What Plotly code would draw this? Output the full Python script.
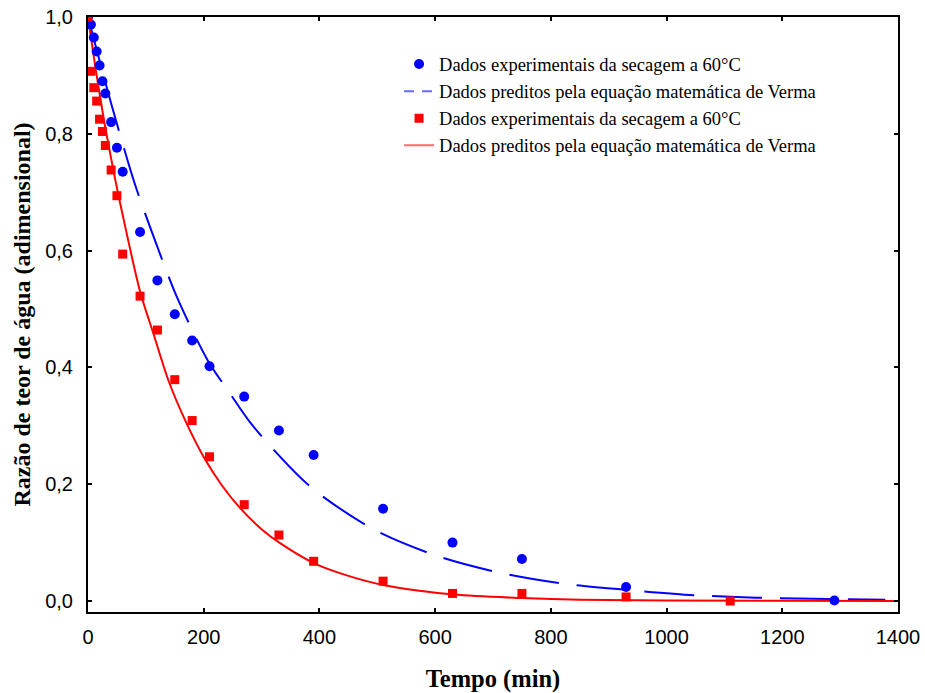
import plotly.graph_objects as go

# Experimental data (blue circles)
t_blue = [0, 5, 10, 15, 20, 25, 30, 40, 50, 60, 90, 120, 150, 180, 210, 270, 330, 390, 510, 630, 750, 930, 1290]
mr_blue = [1.0, 0.987, 0.965, 0.941, 0.917, 0.890, 0.869, 0.820, 0.776, 0.735, 0.632, 0.549, 0.491, 0.446,
           0.402, 0.350, 0.292, 0.250, 0.158, 0.100, 0.072, 0.024, 0.001]

# Experimental data (red squares)
t_red = [0, 5, 10, 15, 20, 25, 30, 40, 50, 60, 90, 120, 150, 180, 210, 270, 330, 390, 510, 630, 750, 930, 1110]
mr_red = [1.0, 0.907, 0.879, 0.856, 0.825, 0.804, 0.780, 0.738, 0.694, 0.594, 0.522, 0.464, 0.379, 0.309,
          0.247, 0.165, 0.113, 0.068, 0.034, 0.013, 0.013, 0.007, 0.0]

# Predicted curves
t_fit_blue = [0, 40, 81, 110, 153, 207, 245, 284, 384, 495, 607, 714, 827, 932, 1047, 1155, 1378]
mr_fit_blue = [1.0, 0.852, 0.714, 0.633, 0.522, 0.412, 0.356, 0.301, 0.196, 0.122, 0.076, 0.048, 0.029,
               0.019, 0.010, 0.0057, 0.002]

t_fit_red = [0, 10, 20, 30, 47, 58, 90, 113, 140, 170, 202, 230, 263, 300, 332, 392, 450, 512, 633, 750, 850, 1000, 1400]
mr_fit_red = [1.0, 0.932, 0.869, 0.810, 0.722, 0.670, 0.530, 0.458, 0.375, 0.305, 0.243, 0.200, 0.159, 0.123,
              0.099, 0.064, 0.043, 0.027, 0.011, 0.005, 0.002, 0.001, 0.0]

x_ticks = [0, 200, 400, 600, 800, 1000, 1200, 1400]
y_ticks = [0.0, 0.2, 0.4, 0.6, 0.8, 1.0]
y_ticktext = ["0,0", "0,2", "0,4", "0,6", "0,8", "1,0"]

label_exp = "Dados experimentais da secagem a 60°C"
label_fit = "Dados preditos pela equação matemática de Verma"

BLUE = "#0000FF"
RED = "#FF0000"
SERIF = "Liberation Serif, Times New Roman, serif"
SANS = "Liberation Sans, Arial, Helvetica, sans-serif"

fig = go.Figure()

fig.add_trace(go.Scatter(x=t_fit_blue, y=mr_fit_blue, mode="lines", showlegend=False,
                         line=dict(color=BLUE, width=2, dash="50px,18px", shape="spline", smoothing=0.8)))
fig.add_trace(go.Scatter(x=t_fit_red, y=mr_fit_red, mode="lines", showlegend=False,
                         line=dict(color=RED, width=2, shape="spline", smoothing=0.8)))

fig.add_trace(go.Scatter(x=t_blue, y=mr_blue, mode="markers", name=label_exp,
                         marker=dict(symbol="circle", size=10, color=BLUE)))
fig.add_trace(go.Scatter(x=[None], y=[None], mode="lines", name=label_fit,
                         line=dict(color="#6A6AFF", width=2, dash="10px,8px")))
fig.add_trace(go.Scatter(x=t_red, y=mr_red, mode="markers", name=label_exp,
                         marker=dict(symbol="square", size=9, color=RED)))
fig.add_trace(go.Scatter(x=[None], y=[None], mode="lines", name=label_fit,
                         line=dict(color="#FF6A6A", width=2)))

axis_common = dict(showline=True, linecolor="black", linewidth=2, mirror="allticks",
                   ticks="inside", ticklen=4, tickwidth=1.5, tickcolor="black",
                   showgrid=False, zeroline=False, ticklabeloverflow="allow",
                   tickfont=dict(family=SANS, size=20, color="black"))

fig.update_xaxes(range=[0, 1400], tickvals=x_ticks, ticklabelstandoff=6,
                 title=dict(text="<b>Tempo (min)</b>", standoff=31,
                            font=dict(family=SERIF, size=24.5, color="black")),
                 **axis_common)
fig.update_yaxes(range=[-0.0188, 1.0], tickvals=y_ticks, ticktext=y_ticktext, ticklabelstandoff=9,
                 title=dict(text="<b>Razão de teor de água (adimensional)</b>", standoff=8,
                            font=dict(family=SERIF, size=24, color="black")),
                 **axis_common)

fig.update_layout(
    width=925, height=693,
    margin=dict(l=88, r=27, t=17, b=81, autoexpand=False),
    paper_bgcolor="white", plot_bgcolor="white",
    legend=dict(x=0.384, y=0.952, xanchor="left", yanchor="top", bgcolor="rgba(0,0,0,0)",
                font=dict(family=SERIF, size=18.5, color="black"),
                itemwidth=30),
)

fig.write_html("out.html", config={"displayModeBar": False},
               post_script="document.body.style.margin='0';")
